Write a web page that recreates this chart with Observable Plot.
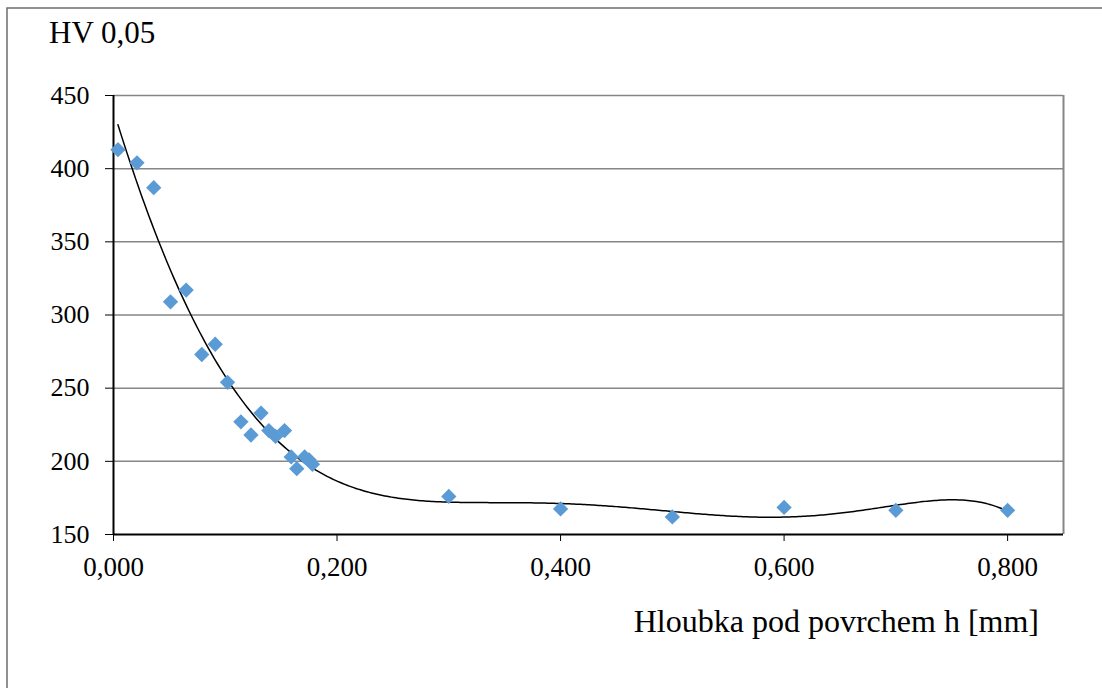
<!DOCTYPE html>
<html>
<head>
<meta charset="utf-8">
<script src="https://cdn.jsdelivr.net/npm/d3@7"></script>
<script src="https://cdn.jsdelivr.net/npm/@observablehq/plot@0.6"></script>
<style>
  html, body { margin: 0; padding: 0; background: #fff; }
  #chart { width: 1102px; height: 688px; overflow: hidden; }
  #chart svg text { font-family: 'Liberation Serif', 'Times New Roman', serif !important; }
  #chart svg g[aria-label="x-axis tick label"] text { font-size: 27px !important; }
  #chart svg g[aria-label="y-axis tick label"] text { font-size: 26px !important; }
</style>
</head>
<body>
<div id="chart"></div>
<script>
// Depth below surface h [mm]
const depth = [0.004, 0.021, 0.036, 0.051, 0.065, 0.079, 0.091, 0.102, 0.114, 0.123,
               0.132, 0.139, 0.145, 0.153, 0.159, 0.164, 0.171, 0.175, 0.178,
               0.300, 0.400, 0.500, 0.600, 0.700, 0.800];
// Hardness HV 0,05
const hardness = [413, 404, 387, 309, 317, 273, 280, 254, 227, 218,
                  233, 221, 217, 221, 203, 195, 203, 201, 198,
                  176, 167.5, 162, 168.5, 166.5, 166.5];
const xTicks = [0, 0.2, 0.4, 0.6, 0.8];
const yTicks = [150, 200, 250, 300, 350, 400, 450];
const yTitle = "HV 0,05";
const xTitle = "Hloubka pod povrchem h [mm]";
const trendDegree = 6;

const FONT = "'Liberation Serif', 'Times New Roman', serif";
const points = depth.map((d, i) => ({x: d, y: hardness[i]}));

// Polynomial least-squares trendline (like a spreadsheet polynomial trendline)
function polyFit(xs, ys, deg) {
  const s = d3.max(xs);
  const n = deg + 1;
  const A = Array.from({length: n}, () => new Array(n + 1).fill(0));
  xs.forEach((xv, k) => {
    const t = xv / s;
    const pw = [];
    for (let i = 0; i < 2 * n; i++) pw.push(Math.pow(t, i));
    for (let i = 0; i < n; i++) {
      for (let j = 0; j < n; j++) A[i][j] += pw[i + j];
      A[i][n] += pw[i] * ys[k];
    }
  });
  for (let c = 0; c < n; c++) {
    let p = c;
    for (let r = c + 1; r < n; r++) if (Math.abs(A[r][c]) > Math.abs(A[p][c])) p = r;
    [A[c], A[p]] = [A[p], A[c]];
    for (let r = 0; r < n; r++) {
      if (r === c) continue;
      const f = A[r][c] / A[c][c];
      for (let j = c; j <= n; j++) A[r][j] -= f * A[c][j];
    }
  }
  const coef = A.map((row, i) => row[n] / row[i]);
  return xv => { const t = xv / s; let v = 0; for (let i = n - 1; i >= 0; i--) v = v * t + coef[i]; return v; };
}
const f = polyFit(depth, hardness, trendDegree);
const [x0, x1] = d3.extent(depth);
const trend = d3.range(0, 401).map(i => { const xv = x0 + (x1 - x0) * i / 400; return {x: xv, y: f(xv)}; });

const fmt = d => d3.format(".3f")(d).replace(".", ",");

const svg = Plot.plot({
  width: 1102,
  height: 688,
  marginLeft: 113,
  marginRight: 39,
  marginTop: 95,
  marginBottom: 154,
  style: {fontFamily: FONT, fontSize: "27px", color: "#000", background: "#fff", overflow: "hidden"},
  x: {domain: [0, 0.85], label: null},
  y: {domain: [150, 450], label: null},
  marks: [
    Plot.ruleY(yTicks.slice(1), {stroke: "#868686", strokeWidth: 1.5}),
    Plot.ruleX([0.85], {stroke: "#868686", strokeWidth: 2}),
    Plot.axisY({ticks: yTicks, tickSize: 8, tickPadding: 16, label: null, fontSize: 26, fontFamily: FONT, fontVariant: "normal"}),
    Plot.axisX({ticks: xTicks, tickSize: 7, tickPadding: 15, tickFormat: fmt, label: null, fontSize: 27, fontFamily: FONT, fontVariant: "normal"}),
    Plot.ruleX([0], {stroke: "#000", strokeWidth: 2}),
    Plot.ruleY([150], {stroke: "#000", strokeWidth: 2}),
    Plot.line(trend, {x: "x", y: "y", stroke: "#000", strokeWidth: 1.5}),
    Plot.dot(points, {x: "x", y: "y", symbol: "diamond2", r: 6.9, fill: "#5B9BD5"})
  ]
});

const s = d3.select(svg);
s.insert("path", ":first-child")
  .attr("d", "M7,688V8H1102")
  .attr("fill", "none")
  .attr("stroke", "#6e6e6e")
  .attr("stroke-width", 1.5);
s.append("text").attr("x", 49).attr("y", 43).attr("text-anchor", "start")
  .attr("font-size", 31).attr("fill", "#000").text(yTitle);
s.append("text").attr("x", 1039).attr("y", 632).attr("text-anchor", "end")
  .attr("font-size", 32).attr("fill", "#000").text(xTitle);

document.getElementById("chart").appendChild(svg);
</script>
</body>
</html>
